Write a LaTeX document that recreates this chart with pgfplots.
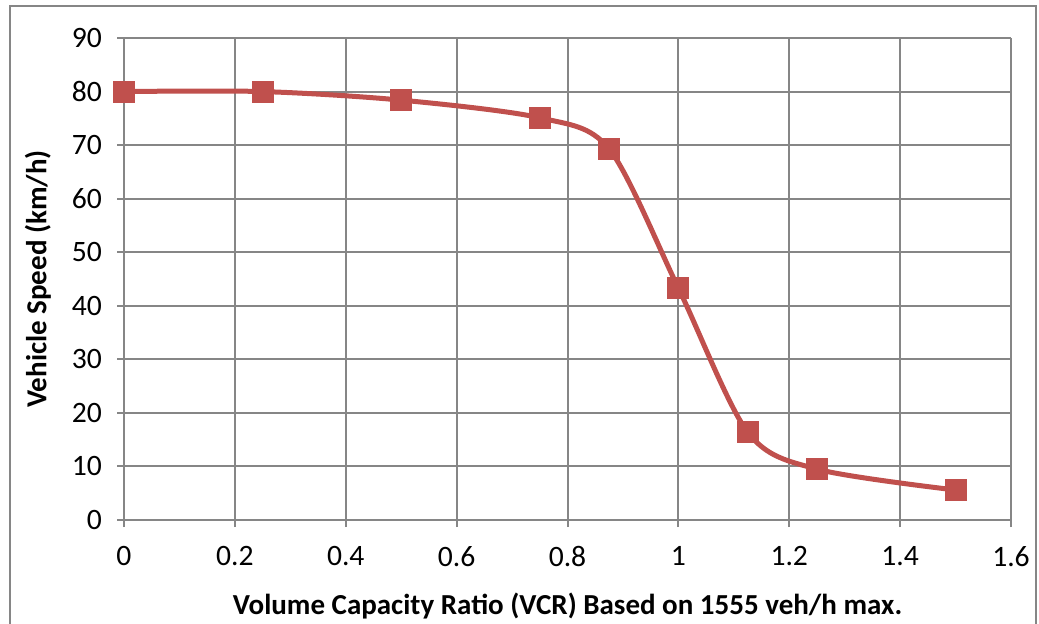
\documentclass[border=0pt]{standalone}
\usepackage{pgfplots}
\pgfplotsset{compat=1.18}
\usepackage{fontspec}
\setmainfont{Carlito}
\definecolor{exred}{RGB}{192,80,77}
\definecolor{exgrid}{RGB}{134,134,134}
\begin{document}
\begin{tikzpicture}[x=1pt,y=1pt]
\path[use as bounding box] (0,0) rectangle (519.5,311.5);
\draw[exgrid, line width=0.9pt] (4.8,-2) -- (4.8,308.5) -- (517.8,308.5) -- (517.8,-2);
\begin{axis}[
  at={(62pt,51.5pt)}, anchor=south west,
  scale only axis, width=443.5pt, height=241pt,
  xmin=0, xmax=1.6, ymin=0, ymax=90,
  xtick={0,0.2,...,1.6}, ytick={0,10,...,90},
  xticklabels={0,0.2,0.4,0.6,0.8,1,1.2,1.4,1.6},
  grid=major,
  grid style={exgrid, line width=1pt},
  axis line style={exgrid, line width=1pt},
  axis x line*=bottom, axis y line*=left,
  major tick style={exgrid, line width=1pt},
  tick align=outside, major tick length=3.5pt,
  tick label style={font=\fontsize{14.8}{16}\selectfont, text=black},
  /pgf/number format/assume math mode=true,
  xticklabel style={yshift=-6pt},
  yticklabel style={xshift=-4pt},
  xlabel={\textbf{Volume Capacity Ratio (VCR) Based on 1555 veh/h max.}},
  ylabel={\textbf{Vehicle Speed (km/h)}},
  label style={font=\fontsize{14.5}{16}\selectfont},
  xlabel style={at={(axis description cs:0.5,0)}, anchor=north, yshift=-33pt},
  ylabel style={at={(axis description cs:0,0.5)}, anchor=south, yshift=33pt},
  clip=false,
]
\addplot[exred, line width=2.5pt, smooth, tension=0.5, mark=square*, mark size=5.25pt, mark options={line width=0pt, fill=exred}]
coordinates {(0,80) (0.25,80) (0.5,78.4) (0.75,75.1) (0.875,69.3) (1,43.3) (1.125,16.4) (1.25,9.5) (1.5,5.6)};
\end{axis}
\end{tikzpicture}
\end{document}
